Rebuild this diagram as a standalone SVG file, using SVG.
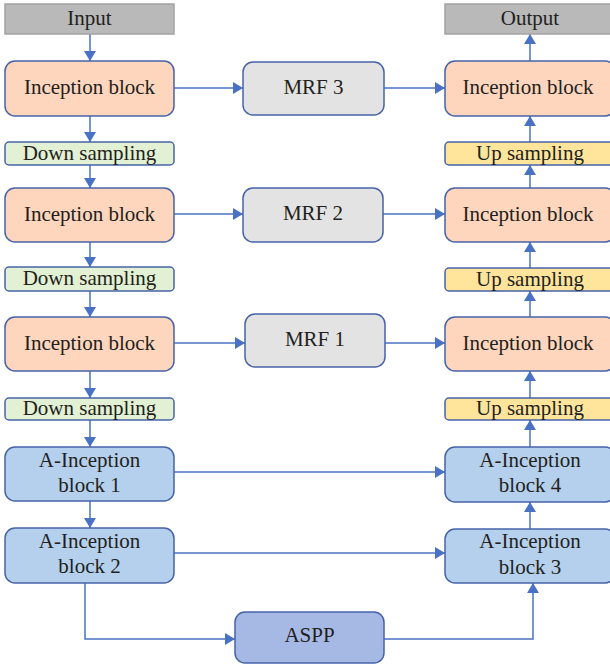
<svg xmlns="http://www.w3.org/2000/svg" width="610" height="667" viewBox="0 0 610 667">
<defs>
<style>
text{font-family:"Liberation Serif","Times New Roman",serif;font-size:21px;fill:#231f20;text-anchor:middle}
.io{fill:#b9b9b9;stroke:#a3a3a3;stroke-width:1.5}
.inc{fill:#fdd6bd;stroke:#4763a8;stroke-width:1.5}
.dn{fill:#e2f0d3;stroke:#4763a8;stroke-width:1.5}
.up{fill:#fee59b;stroke:#4763a8;stroke-width:1.5}
.mrf{fill:#e3e3e3;stroke:#4763a8;stroke-width:1.5}
.ai{fill:#b5d0ec;stroke:#4763a8;stroke-width:1.5}
.aspp{fill:#a6b9e5;stroke:#4763a8;stroke-width:1.5}
.c{fill:none;stroke:#4a72c4;stroke-width:1.5;marker-end:url(#ah)}
</style>
<marker id="ah" markerUnits="userSpaceOnUse" markerWidth="12" markerHeight="12" refX="10" refY="6" orient="auto">
<path d="M0,0 L10,6 L0,12 z" fill="#4a72c4"/>
</marker>
</defs>

<g id="connectors">
<path class="c" d="M90,34 V61"/>
<path class="c" d="M90,116 V142"/>
<path class="c" d="M90,165 V188"/>
<path class="c" d="M90,242 V267"/>
<path class="c" d="M90,291 V317"/>
<path class="c" d="M90,371 V398"/>
<path class="c" d="M90,420 V447"/>
<path class="c" d="M90,501 V528"/>
<path class="c" d="M530,529 V502"/>
<path class="c" d="M530,447 V420"/>
<path class="c" d="M530,398 V371"/>
<path class="c" d="M530,317 V291"/>
<path class="c" d="M530,268 V242"/>
<path class="c" d="M530,188 V165"/>
<path class="c" d="M530,142 V116"/>
<path class="c" d="M530,61 V34"/>
<path class="c" d="M174,88 H243"/>
<path class="c" d="M384,88 H445"/>
<path class="c" d="M174,214 H243"/>
<path class="c" d="M383,214 H445"/>
<path class="c" d="M174,343 H245"/>
<path class="c" d="M385,343 H445"/>
<path class="c" d="M174,472 H445"/>
<path class="c" d="M174,553 H445"/>
<path class="c" d="M85,583 V639 H235"/>
<path class="c" d="M384,639 H533 V583"/>
</g>

<g id="input"><rect class="io" x="5" y="4" width="169" height="30"/><text x="89.5" y="25">Input</text></g>
<g id="output"><rect class="io" x="445" y="4" width="170" height="30"/><text x="530" y="25">Output</text></g>

<g id="inc-l1"><rect class="inc" x="5" y="61" width="169" height="55" rx="10"/><text x="89.5" y="94">Inception block</text></g>
<g id="down1"><rect class="dn" x="5" y="142" width="169" height="23" rx="4"/><text x="89.5" y="160">Down sampling</text></g>
<g id="inc-l2"><rect class="inc" x="5" y="188" width="169" height="54" rx="10"/><text x="89.5" y="221">Inception block</text></g>
<g id="down2"><rect class="dn" x="5" y="267" width="169" height="24" rx="4"/><text x="89.5" y="285">Down sampling</text></g>
<g id="inc-l3"><rect class="inc" x="5" y="317" width="169" height="54" rx="10"/><text x="89.5" y="350">Inception block</text></g>
<g id="down3"><rect class="dn" x="5" y="398" width="169" height="22" rx="4"/><text x="89.5" y="415">Down sampling</text></g>
<g id="ainc1"><rect class="ai" x="5" y="447" width="169" height="54" rx="10"/><text x="89.5" y="467">A-Inception</text><text x="89.5" y="492">block 1</text></g>
<g id="ainc2"><rect class="ai" x="5" y="528" width="169" height="55" rx="10"/><text x="89.5" y="548">A-Inception</text><text x="89.5" y="573">block 2</text></g>

<g id="mrf3"><rect class="mrf" x="243" y="62" width="141" height="53" rx="10"/><text x="313.5" y="94">MRF 3</text></g>
<g id="mrf2"><rect class="mrf" x="243" y="188" width="140" height="54" rx="10"/><text x="313" y="220">MRF 2</text></g>
<g id="mrf1"><rect class="mrf" x="245" y="314" width="140" height="53" rx="10"/><text x="315" y="346">MRF 1</text></g>
<g id="aspp"><rect class="aspp" x="235" y="612" width="149" height="51" rx="10"/><text x="309.5" y="642">ASPP</text></g>

<g id="inc-r1"><rect class="inc" x="445" y="61" width="170" height="55" rx="10"/><text x="528" y="94">Inception block</text></g>
<g id="up1"><rect class="up" x="445" y="142" width="170" height="23" rx="4"/><text x="530" y="160">Up sampling</text></g>
<g id="inc-r2"><rect class="inc" x="445" y="188" width="170" height="54" rx="10"/><text x="528" y="221">Inception block</text></g>
<g id="up2"><rect class="up" x="445" y="268" width="170" height="23" rx="4"/><text x="530" y="286">Up sampling</text></g>
<g id="inc-r3"><rect class="inc" x="445" y="317" width="170" height="54" rx="10"/><text x="528" y="350">Inception block</text></g>
<g id="up3"><rect class="up" x="445" y="398" width="170" height="22" rx="4"/><text x="530" y="415">Up sampling</text></g>
<g id="ainc4"><rect class="ai" x="445" y="447" width="170" height="55" rx="10"/><text x="530" y="467">A-Inception</text><text x="530" y="492">block 4</text></g>
<g id="ainc3"><rect class="ai" x="445" y="529" width="170" height="54" rx="10"/><text x="530" y="548">A-Inception</text><text x="530" y="574">block 3</text></g>
</svg>
